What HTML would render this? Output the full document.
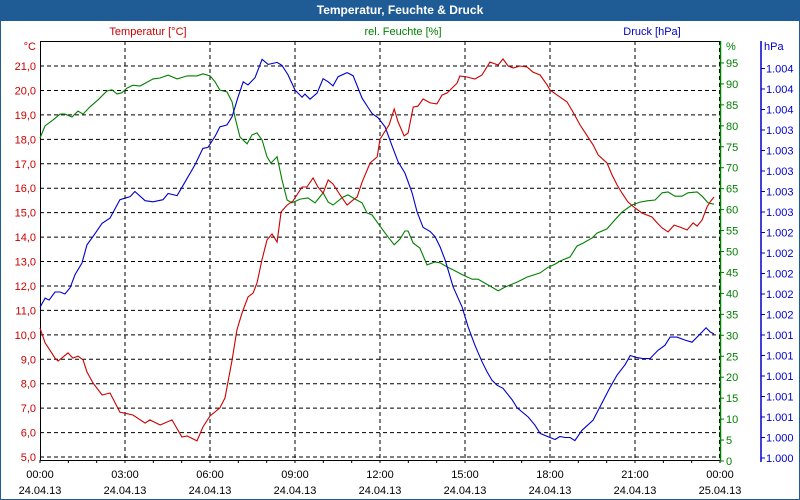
<!DOCTYPE html>
<html><head><meta charset="utf-8"><style>
body{margin:0;width:800px;height:500px;overflow:hidden;background:#fff;font-family:"Liberation Sans","DejaVu Sans",sans-serif}
#frame{position:absolute;left:0;top:0;width:798px;height:498px;border:1px solid #1f5c96}
#titlebar{position:absolute;left:0;top:0;width:800px;height:21px;background:#1f5c96;color:#fff;font-weight:bold;font-size:12px;text-align:center;line-height:21px}
svg{position:absolute;left:0;top:0}
svg text{font-family:"Liberation Sans","DejaVu Sans",sans-serif;font-size:11px}
</style></head><body>
<div id="frame"></div>
<div id="titlebar">Temperatur, Feuchte &amp; Druck</div>
<svg id="chart" width="800" height="500"></svg>
<script>
const tempTime=[0,0.18,0.28,0.53,0.64,0.99,1.16,1.34,1.52,1.66,1.87,2.19,2.47,2.82,3.28,3.71,3.88,4.24,4.66,5.01,5.19,5.54,5.75,6.00,6.35,6.53,6.78,6.95,7.13,7.34,7.52,7.66,7.83,8.01,8.19,8.37,8.51,8.72,8.93,9.25,9.42,9.64,9.81,9.99,10.17,10.34,10.59,10.84,11.05,11.19,11.37,11.65,11.90,12.00,12.32,12.50,12.64,12.85,12.99,13.17,13.34,13.52,13.77,14.01,14.19,14.37,14.72,14.82,15.07,15.35,15.60,15.88,16.17,16.34,16.52,16.70,16.94,17.19,17.40,17.65,17.90,18.00,18.25,18.60,18.81,19.06,19.34,19.52,19.70,20.01,20.19,20.37,20.54,20.75,21.00,21.25,21.60,21.78,21.96,22.17,22.38,22.59,22.84,23.05,23.19,23.37,23.54,23.65,23.79];
const tempValues=[10.28,9.67,9.50,9.05,8.93,9.26,9.05,9.13,8.97,8.48,8.03,7.54,7.62,6.84,6.72,6.39,6.52,6.31,6.52,5.82,5.86,5.66,6.23,6.68,7.01,7.42,8.97,10.20,10.89,11.55,11.71,12.12,13.06,13.88,14.13,13.80,15.03,15.31,15.48,16.05,16.05,16.42,16.05,15.80,16.34,16.17,15.72,15.31,15.52,15.64,16.25,17.03,17.28,18.01,18.59,19.24,18.71,18.14,18.26,19.32,19.36,19.65,19.49,19.45,19.81,19.90,20.30,20.59,20.55,20.47,20.63,21.16,21.04,21.29,21.00,20.92,21.00,20.96,20.75,20.63,20.22,20.02,19.81,19.53,19.12,18.59,18.09,17.77,17.36,17.03,16.54,16.13,15.80,15.44,15.19,14.98,14.82,14.58,14.37,14.21,14.49,14.41,14.29,14.58,14.45,14.70,15.23,15.44,15.64];
const humTime=[0,0.18,0.46,0.71,0.88,1.13,1.34,1.52,1.76,2.05,2.36,2.54,2.72,2.89,3.07,3.28,3.53,3.99,4.24,4.52,4.84,5.19,5.54,5.75,6.00,6.18,6.35,6.60,6.78,6.88,7.06,7.31,7.48,7.66,7.84,8.01,8.15,8.37,8.54,8.72,8.89,9.18,9.46,9.71,9.99,10.17,10.34,10.70,10.87,11.12,11.37,11.54,11.72,11.90,12.18,12.50,12.71,12.88,12.99,13.17,13.41,13.66,13.94,14.12,14.37,14.58,14.93,15.25,15.46,15.64,15.95,16.17,16.41,16.84,17.19,17.65,17.90,18.18,18.35,18.71,18.95,19.17,19.48,19.66,20.01,20.19,20.54,20.89,21.18,21.43,21.71,21.96,22.17,22.41,22.66,22.87,23.19,23.37,23.58,23.79];
const humValues=[77.1,80.0,81.4,82.8,82.8,82.1,83.5,82.8,84.5,86.2,88.3,88.6,87.6,87.9,89.0,89.7,89.5,91.2,91.4,92.1,91.2,91.9,91.9,92.4,91.9,90.5,88.5,88.1,85.7,82.1,77.3,75.7,77.8,78.3,76.6,72.6,71.1,72.6,67.1,62.3,61.6,62.5,62.8,61.6,64.0,61.8,61.1,63.0,63.5,62.5,61.6,59.2,58.7,57.0,54.4,51.6,53.0,54.9,54.9,52.0,50.8,46.8,47.5,47.3,46.3,45.6,44.4,43.4,43.4,42.7,41.5,40.6,41.5,42.7,43.9,44.9,46.1,47.0,47.7,48.7,51.3,52.0,53.2,54.4,55.4,56.8,59.4,61.1,61.8,62.1,62.3,64.0,64.2,63.2,63.2,64.0,64.2,63.2,61.6,61.3];
const presTime=[0,0.18,0.32,0.53,0.71,0.88,1.06,1.24,1.48,1.66,1.87,2.19,2.47,2.82,3.18,3.35,3.71,3.99,4.34,4.52,4.84,5.05,5.47,5.75,5.93,6.18,6.35,6.60,6.78,6.99,7.17,7.34,7.59,7.84,8.05,8.37,8.54,8.75,9.00,9.25,9.35,9.53,9.78,9.99,10.17,10.34,10.52,10.84,11.05,11.37,11.58,11.72,11.93,12.18,12.42,12.64,12.88,13.13,13.31,13.52,13.77,13.94,14.12,14.30,14.58,14.90,15.11,15.35,15.60,15.78,15.95,16.13,16.34,16.66,16.84,17.23,17.47,17.65,18.00,18.18,18.35,18.53,18.71,18.88,19.13,19.52,19.84,20.12,20.37,20.65,20.83,21.07,21.28,21.53,21.81,22.06,22.24,22.48,22.77,23.01,23.23,23.51,23.65,23.79];
const presValues=[1.00157,1.00166,1.00164,1.00172,1.00172,1.00170,1.00176,1.00189,1.00200,1.00218,1.00226,1.00239,1.00244,1.00262,1.00265,1.00270,1.00261,1.00260,1.00262,1.00268,1.00266,1.00276,1.00296,1.00312,1.00313,1.00324,1.00333,1.00335,1.00343,1.00362,1.00377,1.00374,1.00381,1.00399,1.00394,1.00396,1.00393,1.00384,1.00369,1.00362,1.00365,1.00360,1.00366,1.00380,1.00377,1.00373,1.00382,1.00386,1.00383,1.00361,1.00352,1.00346,1.00342,1.00333,1.00315,1.00299,1.00288,1.00269,1.00250,1.00235,1.00231,1.00226,1.00216,1.00203,1.00177,1.00157,1.00138,1.00120,1.00104,1.00094,1.00086,1.00081,1.00078,1.00067,1.00059,1.00050,1.00042,1.00034,1.00030,1.00028,1.00031,1.00030,1.00030,1.00027,1.00037,1.00047,1.00064,1.00079,1.00091,1.00101,1.00110,1.00108,1.00107,1.00107,1.00115,1.00120,1.00128,1.00128,1.00125,1.00123,1.00129,1.00137,1.00133,1.00131];
const tempTicks=[5,6,7,8,9,10,11,12,13,14,15,16,17,18,19,20,21];
const humTicks=[0,5,10,15,20,25,30,35,40,45,50,55,60,65,70,75,80,85,90,95];
const presTicks=[1.0001,1.0003,1.0005,1.0007,1.0009,1.0011,1.0013,1.0015,1.0017,1.0019,1.0021,1.0023,1.0025,1.0027,1.0029,1.0031,1.0033,1.0035,1.0037,1.0039];
const timeTicks=[0,3,6,9,12,15,18,21,24];
const timeLabels=["00:00","03:00","06:00","09:00","12:00","15:00","18:00","21:00","00:00"];
const dateLabels=["24.04.13","24.04.13","24.04.13","24.04.13","24.04.13","24.04.13","24.04.13","24.04.13","25.04.13"];

const L=40,R=720,T=41,B=460;
const xS=h=>L+h*(R-L)/24;
const yT=t=>66+(21-t)*24.44;
const yH=v=>461-v*4.19;
const yP=p=>458-(p-1.0001)*102500;
const svg=document.getElementById('chart');
const NS='http://www.w3.org/2000/svg';
function mk(tag,attrs,parent){const e=document.createElementNS(NS,tag);for(const k in attrs)e.setAttribute(k,attrs[k]);(parent||svg).appendChild(e);return e;}
function txt(x,y,s,fill,anchor){const e=mk('text',{x:x,y:y,fill:fill,'text-anchor':anchor||'start'});e.textContent=s;return e;}

// grid
tempTicks.forEach(t=>{if(t<6)return;const l=mk('line',{x1:L,x2:R,y1:yT(t),y2:yT(t),stroke:'#000','stroke-dasharray':'4,3'});

});
{const l=mk('line',{x1:L,x2:R,y1:yT(5),y2:yT(5),stroke:'#000','stroke-dasharray':'4,3'});

}
timeTicks.forEach(h=>{if(h===0||h===24)return;const l=mk('line',{x1:xS(h),x2:xS(h),y1:T,y2:B,stroke:'#000','stroke-dasharray':'4,3'});

});
{const l=mk('line',{x1:xS(24)-0.5,x2:xS(24)-0.5,y1:T,y2:B,stroke:'#000','stroke-dasharray':'4,3'});

}

// axes
const ax=mk('path',{d:`M${L+0.5},${T} V${B+0.5} H${R}`,stroke:'#000',fill:'none'});


const topl=mk('line',{x1:L,x2:R,y1:T+0.5,y2:T+0.5,stroke:'#000'});


for(let h=0;h<=24;h++){const t=mk('line',{x1:xS(h),x2:xS(h),y1:B,y2:B+3,stroke:'#000'});

}
timeTicks.forEach((h,i)=>{const a=txt(xS(h),478,timeLabels[i],'#000','middle');


const b=txt(xS(h),494,dateLabels[i],'#000','middle');

});

// temp axis labels
tempTicks.forEach(t=>{const e=txt(36,yT(t)+4,t.toFixed(1).replace('.',','),'#cc0000','end');

});
{const e=txt(36,50,'°C','#cc0000','end');

}

// humidity axis
const ha=mk('line',{x1:R+0.5,x2:R+0.5,y1:T,y2:B+1,stroke:'#008000','stroke-width':1.5});


humTicks.forEach(v=>{const t=mk('line',{x1:R,x2:R+4,y1:yH(v),y2:yH(v),stroke:'#008000'});


const e=txt(R+6,yH(v)+4,String(v),'#008000');

});
{const e=txt(R+6,50,'%','#008000');

}

// pressure axis
const pa=mk('line',{x1:761,x2:761,y1:T,y2:B+2,stroke:'#0000cc','stroke-width':1.5});


presTicks.forEach(p=>{const t=mk('line',{x1:761,x2:765,y1:yP(p),y2:yP(p),stroke:'#0000cc'});


const e=txt(766,yP(p)+4,(Math.round(p*1000)/1000).toFixed(3),'#0000cc');

});
{const e=txt(764,50,'hPa','#0000cc');

}

// series titles
{const e=txt(148,35,'Temperatur [°C]','#cc0000','middle');


const f=txt(403,35,'rel. Feuchte [%]','#008000','middle');


const g=txt(652,35,'Druck [hPa]','#0000cc','middle');

}

function line(ts,vs,yf,color,name){const d=ts.map((h,i)=>(i?'L':'M')+xS(h).toFixed(1)+','+yf(vs[i]).toFixed(1)).join(' ');
const p=mk('path',{d:d,stroke:color,fill:'none','stroke-width':1.1});

}
line(humTime,humValues,yH,'#008000','humidity-line');
line(presTime,presValues,yP,'#0000cc','pressure-line');
line(tempTime,tempValues,yT,'#cc0000','temperature-line');
</script>
</body></html>
